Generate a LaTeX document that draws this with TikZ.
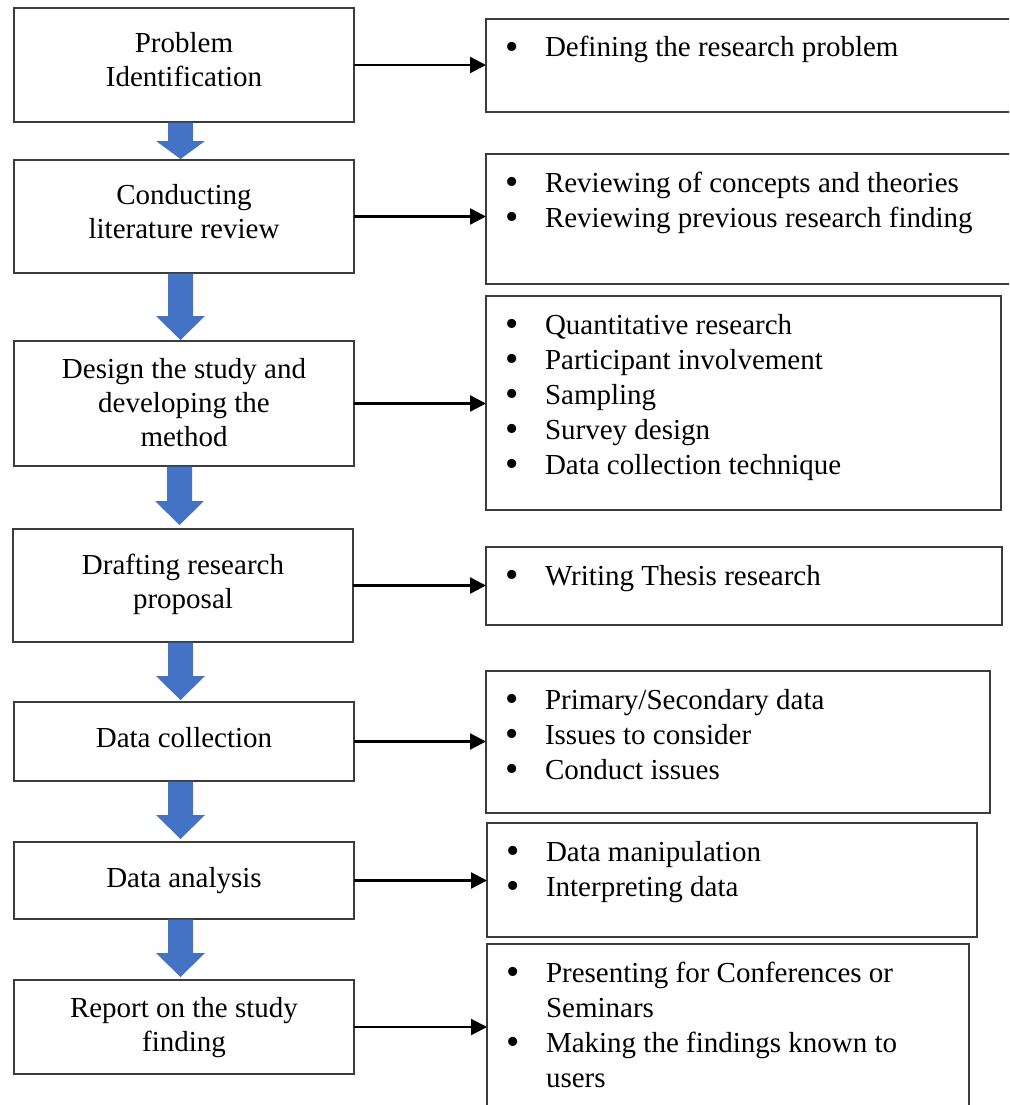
\documentclass[tikz,border=0pt]{standalone}
\usepackage{fontspec}
\setmainfont{Liberation Serif}
\usetikzlibrary{arrows.meta,calc}
\definecolor{flowblue}{HTML}{4472C4}
\definecolor{boxgray}{HTML}{3C3C3C}
\newcommand\ltext[3]{\parbox[c][#1pt][t]{340pt}{\centering\baselineskip=34pt\rule{0pt}{#2pt}#3\par}}
\newcommand\rtext[3]{\parbox[c][#2pt][t]{#1pt}{\raggedright\parindent=0pt\baselineskip=35pt #3\par}}
\newcommand\bdot{\makebox[0pt]{\raisebox{-2.6pt}{\fontsize{38pt}{38pt}\selectfont\textbullet}}}
\newcommand\bfirst[1]{\noindent\rule{0pt}{38pt}\hspace*{26pt}\bdot\hspace*{33pt}#1}
\newcommand\bnext[1]{\par\noindent\hspace*{26pt}\bdot\hspace*{33pt}#1}
\newcommand\bcont[1]{\par\noindent\hspace*{59pt}#1}
\newcommand\flowarrow[4]{%
  \coordinate (#1tip) at ($(#2.north)+(-3.5,-#4)$);
  \coordinate (#1top) at ($(#1.south -| #1tip)+(0,0.6)$);
  \fill[flowblue] ($(#1top)+(-12.5,0)$) -- ($(#1top)+(12.5,0)$) -- ($(#1tip)+(12.5,-#3)$) -- ($(#1tip)+(24.5,-#3)$) -- (#1tip) -- ($(#1tip)+(-24.5,-#3)$) -- ($(#1tip)+(-12.5,-#3)$) -- cycle;}
\tikzset{
  lbox/.style={draw=boxgray, line width=1.2pt, inner sep=0pt, outer sep=0pt, fill=white, font=\fontsize{29pt}{34pt}\selectfont},
  rbox/.style={draw=boxgray, line width=1.2pt, inner sep=0pt, outer sep=0pt, fill=white, font=\fontsize{29pt}{35pt}\selectfont},
  conn/.style={draw=black, line width=2.3pt, -{Triangle[length=16pt,width=16pt]}}
}
\begin{document}
\begin{tikzpicture}[x=1pt,y=-1pt]
\useasboundingbox (0,0) rectangle (1009,1105);
\clip (0,0) rectangle (1009,1105);
\fill[white] (0,0) rectangle (1009,1105);
% left process boxes
\node[lbox] (L1) at (184,65) {\ltext{114}{45}{Problem\\Identification}};
\node[lbox] (L2) at (184,216.5) {\ltext{113}{44}{Conducting\\literature review}};
\node[lbox] (L3) at (184,403.5) {\ltext{125}{37}{Design the study and\\developing the\\method}};
\node[lbox] (L4) at (183,585.5) {\ltext{113}{45}{Drafting research\\proposal}};
\node[lbox] (L5) at (184,741.5) {\ltext{79}{45}{Data collection}};
\node[lbox] (L6) at (184,880.5) {\ltext{77}{45}{Data analysis}};
\node[lbox] (L7) at (184,1027) {\ltext{94}{37}{Report on the study\\finding}};
% right detail boxes
\node[rbox] (R1) at (750.5,65.5) {\rtext{529}{93}{\bfirst{Defining the research problem}}};
\node[rbox] (R2) at (750.5,219) {\rtext{529}{130}{\bfirst{Reviewing of concepts and theories}\bnext{Reviewing previous research finding}}};
\node[rbox] (R3) at (743.5,403) {\rtext{515}{214}{\bfirst{Quantitative research}\bnext{Participant involvement}\bnext{Sampling}\bnext{Survey design}\bnext{Data collection technique}}};
\node[rbox] (R4) at (744,586) {\rtext{516}{78}{\bfirst{Writing Thesis research}}};
\node[rbox] (R5) at (738,742) {\rtext{504}{142}{\bfirst{Primary/Secondary data}\bnext{Issues to consider}\bnext{Conduct issues}}};
\node[rbox] (R6) at (732,880) {\rtext{490}{114}{\bfirst{Data manipulation}\bnext{Interpreting data}}};
\node[rbox] (R7) at (728,1029.5) {\rtext{482}{171}{\bfirst{Presenting for Conferences or}\bcont{Seminars}\bnext{Making the findings known to}\bcont{users}}};
% blue block arrows
\flowarrow{L1}{L2}{18}{1}
\flowarrow{L2}{L3}{24}{1}
\flowarrow{L3}{L4}{24}{4}
\flowarrow{L4}{L5}{24}{2}
\flowarrow{L5}{L6}{24}{3}
\flowarrow{L6}{L7}{24}{3}
% connectors
\foreach \i in {1,...,7} {
  \draw[conn] (L\i.east) -- (L\i.east -| R\i.west);
}
\end{tikzpicture}
\end{document}
